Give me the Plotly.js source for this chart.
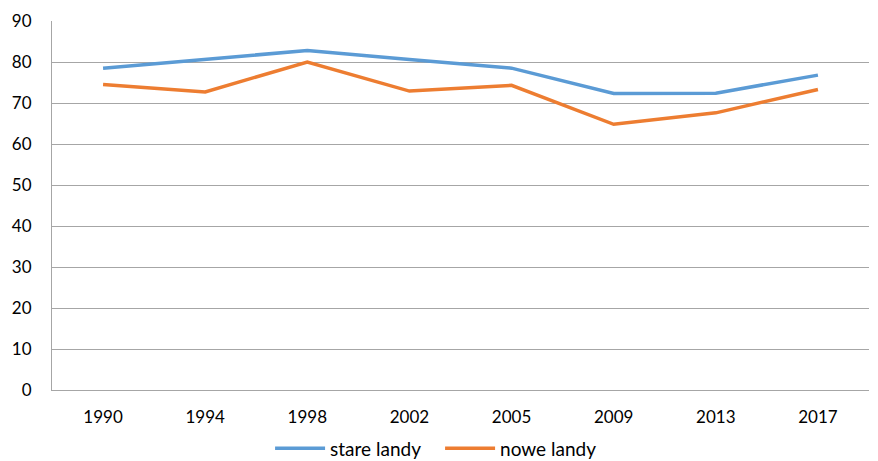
<!DOCTYPE html>
<html><head><meta charset="utf-8">
<script src="https://cdn.plot.ly/plotly-3.0.1.min.js"></script>
<style>html,body{margin:0;padding:0;background:#fff}#c{width:878px;height:461px}</style>
</head><body><div id="c"></div>
<script>
const years = ['1990','1994','1998','2002','2005','2009','2013','2017'];
const stareLandy = [78.5, 80.6, 82.8, 80.6, 78.5, 72.3, 72.4, 76.8];
const noweLandy = [74.5, 72.7, 80.0, 72.9, 74.3, 64.8, 67.6, 73.3];
const yTicks = [0,10,20,30,40,50,60,70,80,90];

const traces = [
  {x: years, y: stareLandy, name: 'stare landy', type: 'scatter', mode: 'lines',
   line: {color: '#5b9bd5', width: 3.5}},
  {x: years, y: noweLandy, name: 'nowe landy', type: 'scatter', mode: 'lines',
   line: {color: '#ed7d31', width: 3.5}}
];
const layout = {
  width: 878, height: 461,
  margin: {l: 52, r: 9, t: 21, b: 71, autoexpand: false},
  paper_bgcolor: '#fff', plot_bgcolor: '#fff',
  font: {family: 'Lato, "Open Sans", sans-serif', size: 17, color: '#000'},
  showlegend: true,
  legend: {orientation: 'h', x: 0.475, xanchor: 'center', y: -0.158, yanchor: 'middle',
           font: {size: 19}, itemwidth: 50, entrywidth: 105, entrywidthmode: 'pixels'},
  xaxis: {type: 'category', showgrid: false, showline: true, linecolor: '#a6a6a6', linewidth: 1,
          ticks: '', zeroline: false, range: [-0.5, 7.5], ticklabelstandoff: 12, automargin: false},
  yaxis: {range: [0, 90], tickvals: yTicks, showgrid: true, gridcolor: '#a6a6a6', gridwidth: 1,
          showline: true, linecolor: '#a6a6a6', linewidth: 1, zeroline: false, ticks: '',
          ticklabelstandoff: 16, automargin: false}
};
Plotly.newPlot('c', traces, layout, {displayModeBar: false, staticPlot: true});
</script></body></html>
